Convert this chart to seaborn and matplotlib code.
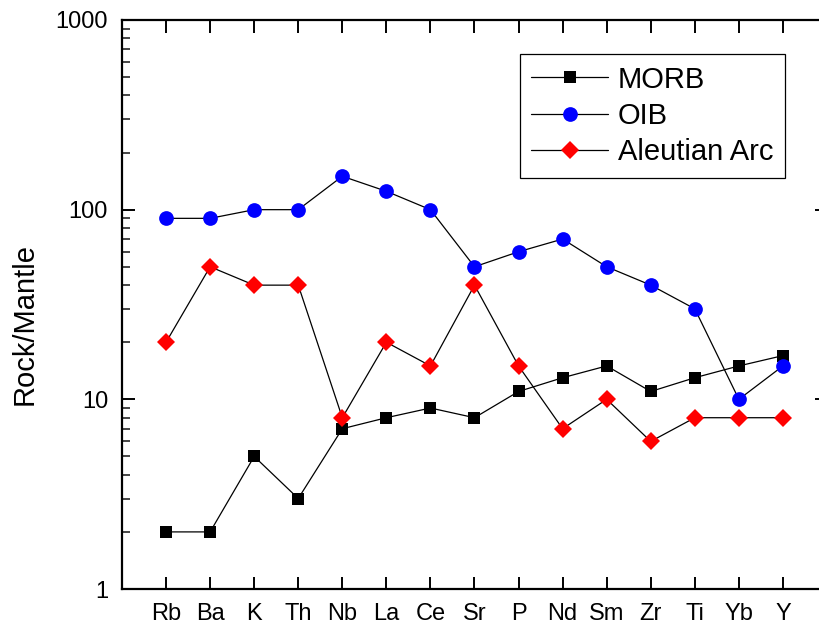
import numpy as np
import pandas as pd
import seaborn as sns
import matplotlib
matplotlib.use("Agg")
import matplotlib.pyplot as plt
from matplotlib.ticker import FixedLocator, FixedFormatter, LogLocator, NullFormatter

# Spider-diagram data (normalised to primitive mantle)
elements = ["Rb", "Ba", "K", "Th", "Nb", "La", "Ce", "Sr", "P", "Nd", "Sm", "Zr", "Ti", "Yb", "Y"]
morb = [2, 2, 5, 3, 7, 8, 9, 8, 11, 13, 15, 11, 13, 15, 17]
oib = [90, 90, 100, 100, 150, 125, 100, 50, 60, 70, 50, 40, 30, 10, 15]
aleutian = [20, 50, 40, 40, 8, 20, 15, 40, 15, 7, 10, 6, 8, 8, 8]

series_names = ["MORB", "OIB", "Aleutian Arc"]
y_ticks = [1, 10, 100, 1000]
y_tick_labels = ["1", "10", "100", "1000"]

sns.set_style("ticks")
plt.rcParams["font.family"] = ["Liberation Sans", "DejaVu Sans"]
plt.rcParams["text.color"] = "black"
plt.rcParams["axes.labelcolor"] = "black"

fig = plt.figure(figsize=(8.2, 6.25), dpi=100)
ax = fig.add_axes([122 / 820, 36 / 625, 705 / 820, 569 / 625])

pos = np.arange(len(elements))
df = pd.DataFrame({"pos": pos, "MORB": morb, "OIB": oib, "Aleutian Arc": aleutian})

styles = {
    "MORB": dict(marker="s", mfc="black", ms=9.2),
    "OIB": dict(marker="o", mfc="#0000ff", ms=10.6),
    "Aleutian Arc": dict(marker="D", mfc="#ff0000", ms=9.0),
}
for name in series_names:
    st = styles[name]
    sns.lineplot(data=df, x="pos", y=name, ax=ax, color="black", lw=0.9,
                 marker=st["marker"], markerfacecolor=st["mfc"],
                 markeredgecolor=st["mfc"], markersize=st["ms"],
                 markeredgewidth=0, label=name, sort=False)

ax.set_yscale("log")
ax.set_ylim(1, 1000)
ax.set_xlim(-1, 15)

ax.yaxis.set_major_locator(FixedLocator(y_ticks))
ax.yaxis.set_major_formatter(FixedFormatter(y_tick_labels))
ax.yaxis.set_minor_locator(LogLocator(base=10, subs=np.arange(2, 10)))
ax.yaxis.set_minor_formatter(NullFormatter())
ax.set_xticks(pos)
ax.set_xticklabels(elements)

for s in ax.spines.values():
    s.set_linewidth(1.6)
    s.set_color("black")

ax.tick_params(axis="both", which="major", direction="in", length=9, width=1.4,
               labelsize=17, pad=10, colors="black")
ax.tick_params(axis="x", which="major", top=True, bottom=True)
ax.tick_params(axis="y", which="major", left=True, right=True)
ax.tick_params(axis="y", which="minor", direction="in", length=5.5, width=1.2,
               left=True, right=False)
ax.tick_params(axis="x", which="minor", bottom=False, top=False)

ax.set_xlabel("")
ax.set_ylabel("Rock/Mantle", fontsize=21, color="black")
ax.yaxis.set_label_coords(-0.118, 0.466)

leg = ax.legend(loc="upper right", bbox_to_anchor=(0.9404, 0.9402), borderaxespad=0,
                fontsize=21, frameon=True, fancybox=False, framealpha=1,
                edgecolor="black", handlelength=2.65, handletextpad=0.32,
                labelspacing=0.28, borderpad=0.4)
leg.get_frame().set_linewidth(0.9)
for t in leg.get_texts():
    t.set_color("black")

fig.savefig("out.png", dpi=100)
